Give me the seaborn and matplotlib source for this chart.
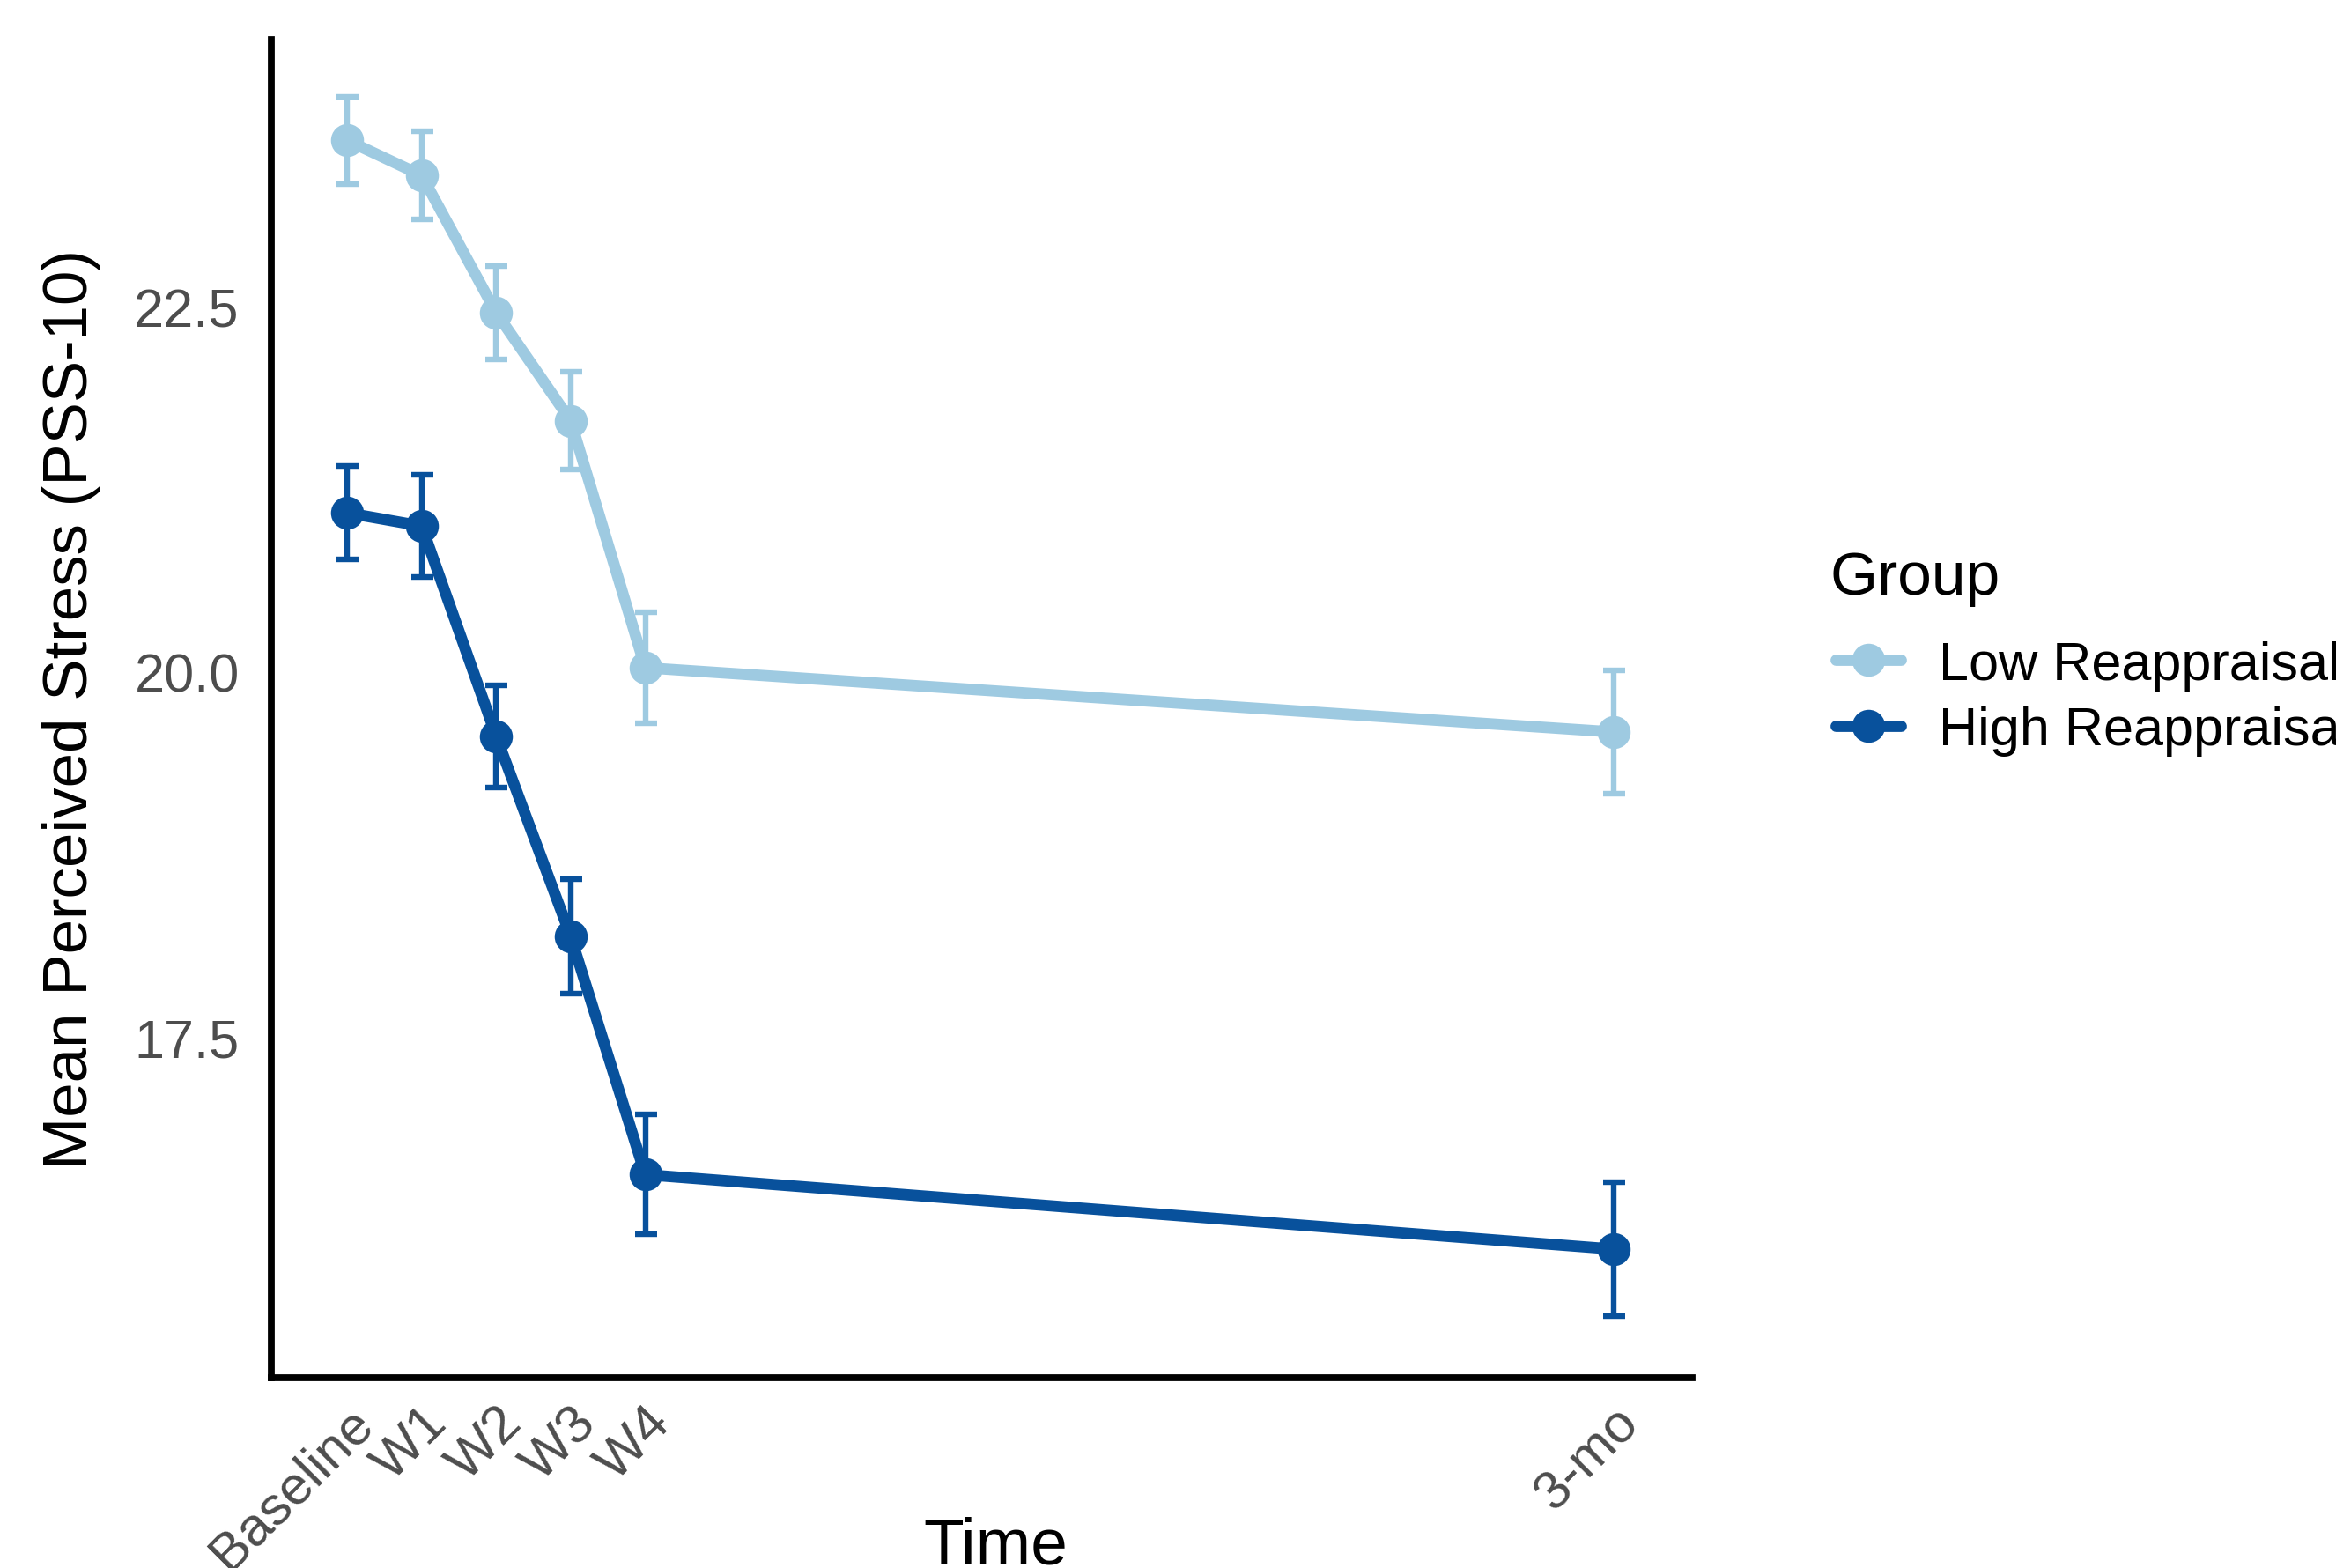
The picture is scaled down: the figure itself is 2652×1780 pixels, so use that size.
import seaborn as sns
import matplotlib
matplotlib.use('Agg')
import matplotlib.pyplot as plt
import pandas as pd
import numpy as np

# time points (weeks from baseline, 3-mo plotted at week 17)
time_pos = [0, 1, 2, 3, 4, 17]
time_labels = ['Baseline', 'W1', 'W2', 'W3', 'W4', '3-mo']

groups = ['Low Reappraisal', 'High Reappraisal']
low_mean = [23.64, 23.40, 22.46, 21.72, 20.03, 19.59]
low_se = [0.30, 0.30, 0.32, 0.335, 0.38, 0.42]
high_mean = [21.09, 21.00, 19.56, 18.19, 16.56, 16.05]
high_se = [0.32, 0.35, 0.35, 0.39, 0.41, 0.46]

pal = {'Low Reappraisal': '#9ECAE1', 'High Reappraisal': '#08519C'}

df = pd.DataFrame({
    'time': time_pos * 2,
    'mean': low_mean + high_mean,
    'se': low_se + high_se,
    'group': [groups[0]] * 6 + [groups[1]] * 6,
})

sns.set_style('white')
plt.rcParams['font.family'] = ['Liberation Sans', 'DejaVu Sans']
plt.rcParams['text.color'] = 'black'
plt.rcParams['axes.labelcolor'] = 'black'

fig = plt.figure(figsize=(13.26, 8.905), dpi=200)
ax = fig.add_axes([0.1161, 0.1213, 0.6083, 0.8529])

#error bars first so points sit on top
for g in groups:
    sub = df[df['group'] == g]
    ax.errorbar(sub['time'], sub['mean'], yerr=sub['se'], fmt='none',
                ecolor=pal[g], elinewidth=2.3, capsize=4.5, capthick=2.3, zorder=2)

sns.lineplot(data=df, x='time', y='mean', hue='group', hue_order=groups,
             palette=pal, marker='o', markersize=13.5, markeredgewidth=0,
             linewidth=4.6, ax=ax, legend=False, zorder=3)

ax.set_xlim(-1.02, 18.05)
ax.set_ylim(15.17, 24.33)
ax.set_xticks(time_pos)
ax.set_xticklabels(time_labels, rotation=45, ha='right', va='top',
                   rotation_mode='anchor', fontsize=22, color='#4D4D4D')
ax.set_yticks([17.5, 20.0, 22.5])
ax.set_yticklabels(['17.5', '20.0', '22.5'], fontsize=22, color='#4D4D4D')
ax.tick_params(axis='both', length=7, width=1.8, color='#333333')
ax.tick_params(axis='y', pad=6)
ax.tick_params(axis='x', pad=1)

for side in ['top', 'right']:
    ax.spines[side].set_visible(False)
for side in ['left', 'bottom']:
    ax.spines[side].set_linewidth(2.8)
    ax.spines[side].set_color('black')

ax.set_xlabel('Time', fontsize=27, color='black')
ax.set_ylabel('Mean Perceived Stress (PSS-10)', fontsize=25.5, color='black')
ax.xaxis.set_label_coords(0.51, -0.103)
ax.yaxis.set_label_coords(-0.12, 0.5)

# legend: title as separate text, entries below
fig.text(0.7835, 0.621, 'Group', fontsize=25, color='black',
         ha='left', va='baseline')
handles = [plt.Line2D([0], [0], color=pal[g], linewidth=4.6, marker='o',
                      markersize=13.5, markeredgewidth=0) for g in groups]
leg = ax.legend(handles, groups, loc='center left',
                bbox_to_anchor=(0.786, 0.5545), bbox_transform=fig.transFigure,
                frameon=False, fontsize=22, borderpad=0, borderaxespad=0,
                handlelength=1.2, handletextpad=0.7, labelspacing=0.28)
for t in leg.get_texts():
    t.set_color('black')

fig.savefig('out.png', dpi=200)
